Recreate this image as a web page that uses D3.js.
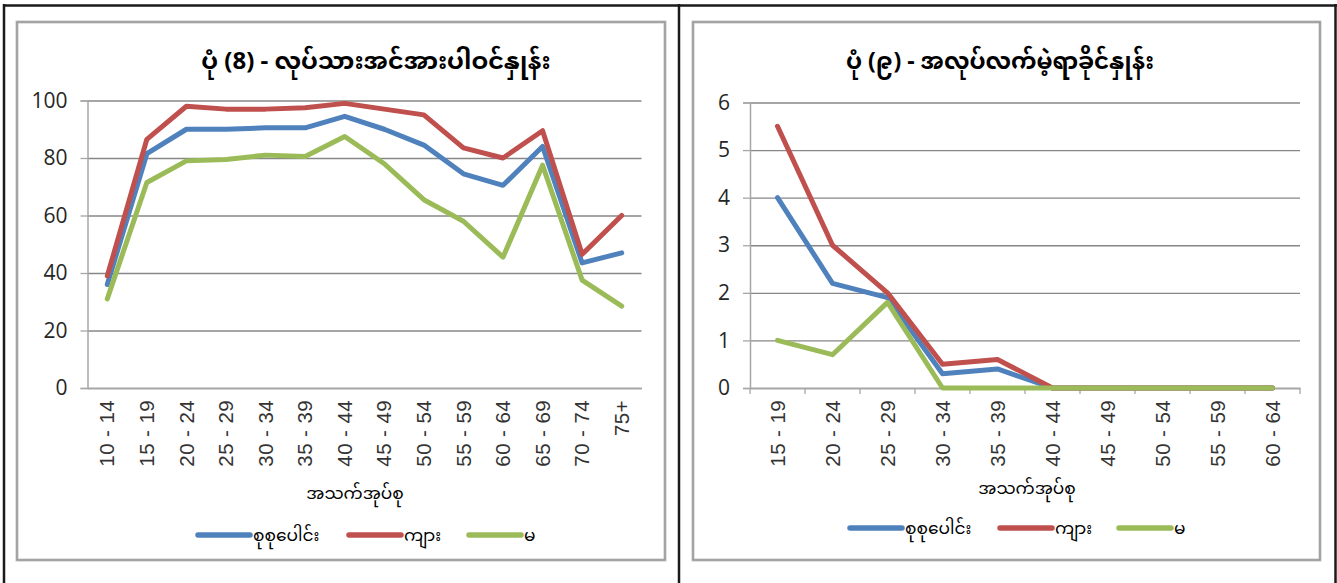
<!DOCTYPE html>
<html>
<head>
<meta charset="utf-8">
<script src="https://cdn.jsdelivr.net/npm/d3@7"></script>
<style>
  body { margin: 0; background: #fff; }
  svg { display: block; }
  .mm { font-family: "Noto Sans Myanmar", "Myanmar Text", "Padauk", "Noto Sans", sans-serif; fill: #000; }
  .tick-y { font-family: "Liberation Sans Narrow", "Open Sans", "Liberation Sans", sans-serif; font-size: 21px; fill: #262626; }
  .tick-x { font-family: "Liberation Sans", Arial, sans-serif; font-size: 20.5px; letter-spacing: 0.4px; fill: #333; }
</style>
</head>
<body>
<script>
// left chart: labour force participation rate
const ageGroupsA = ['10 - 14','15 - 19','20 - 24','25 - 29','30 - 34','35 - 39','40 - 44','45 - 49','50 - 54','55 - 59','60 - 64','65 - 69','70 - 74','75+']
const totalA  = [36, 81.5, 90, 90, 90.5, 90.5, 94.5, 90, 84.5, 74.5, 70.5, 84, 43.5, 47]
const maleA   = [39, 86.5, 98, 97, 97, 97.5, 99, 97, 95, 83.5, 80, 89.5, 46.5, 60]
const femaleA = [31, 71.5, 79, 79.5, 81, 80.5, 87.5, 78, 65.5, 58, 45.5, 77.5, 37.5, 28.5]
const ticksA  = [0, 20, 40, 60, 80, 100]

// right chart: unemployment rate
const ageGroupsB = ['15 - 19','20 - 24','25 - 29','30 - 34','35 - 39','40 - 44','45 - 49','50 - 54','55 - 59','60 - 64']
const totalB  = [4, 2.2, 1.9, 0.3, 0.4, 0, 0, 0, 0, 0]
const maleB   = [5.5, 3, 2, 0.5, 0.6, 0, 0, 0, 0, 0]
const femaleB = [1, 0.7, 1.8, 0, 0, 0, 0, 0, 0, 0]
const ticksB  = [0, 1, 2, 3, 4, 5, 6]

const seriesNames = ['စုစုပေါင်း', 'ကျား', 'မ']
const colors = ['#4F81BD', '#C0504D', '#9BBB59']
const axisTitle = 'အသက်အုပ်စု'

const svg = d3.select('body').append('svg')
    .attr('width', 1337)
    .attr('height', 583)

// outer table lines
const outer = svg.append('g').attr('stroke', '#1a1a1a').attr('stroke-width', 2.5)
outer.append('line').attr('x1', 3).attr('x2', 1337).attr('y1', 5.5).attr('y2', 5.5)
outer.append('line').attr('x1', 4).attr('x2', 4).attr('y1', 4).attr('y2', 583)
outer.append('line').attr('x1', 679).attr('x2', 679).attr('y1', 4).attr('y2', 583)
outer.append('line').attr('x1', 1335.5).attr('x2', 1335.5).attr('y1', 4).attr('y2', 583)

const chart = (cfg) => {
    let g = svg.append('g')

    // chart frame
    g.append('rect')
        .attr('x', cfg.frame[0]).attr('y', cfg.frame[1])
        .attr('width', cfg.frame[2]).attr('height', cfg.frame[3])
        .attr('fill', 'none').attr('stroke', '#c4c4c4').attr('stroke-width', 3)
    g.append('rect')
        .attr('x', cfg.frame[0]).attr('y', cfg.frame[1])
        .attr('width', cfg.frame[2]).attr('height', cfg.frame[3])
        .attr('fill', 'none').attr('stroke', '#8f8f8f').attr('stroke-width', 1.2)

    g.append('text')
        .attr('class', 'mm')
        .attr('x', cfg.titleX)
        .attr('y', 69)
        .attr('text-anchor', 'middle')
        .attr('font-size', cfg.titleSize)
        .attr('font-weight', 'bold')
        .text(cfg.title)

    let x = d3.scaleBand().domain(cfg.cats).range([cfg.x0, cfg.x1])
    let y = d3.scaleLinear().domain([0, d3.max(cfg.ticks)]).range([cfg.y0, cfg.y1])

    // gridlines
    g.append('g')
        .attr('transform', `translate(${cfg.x0},0)`)
        .call(d3.axisLeft(y).tickValues(cfg.ticks).tickSize(-(cfg.x1 - cfg.x0)).tickFormat(''))
        .call(a => a.select('.domain').remove())
        .selectAll('line').attr('stroke', '#878787').attr('stroke-width', 1.3)

    // y tick stubs + labels
    let ya = g.append('g')
        .attr('transform', `translate(${cfg.x0},0)`)
        .call(d3.axisLeft(y).tickValues(cfg.ticks).tickSize(7).tickPadding(13).tickFormat(d3.format('d')))
    ya.select('.domain').attr('stroke', '#a6a6a6').attr('stroke-width', 1.5)
    ya.selectAll('line').attr('stroke', '#a6a6a6').attr('stroke-width', 1.3)
    ya.selectAll('text').attr('class', 'tick-y').attr('font-size', null).attr('font-family', null)

    // x axis
    let xa = g.append('g')
        .attr('transform', `translate(0,${cfg.y0})`)
        .call(d3.axisBottom(x).tickSize(0).tickFormat(''))
    xa.select('.domain').attr('stroke', '#a6a6a6').attr('stroke-width', 1.5)
    if (cfg.xTicks) {
        g.append('g').selectAll('line')
            .data(cfg.cats.concat([null])).enter()
            .append('line')
            .attr('x1', (d, i) => cfg.x0 + i * x.step())
            .attr('x2', (d, i) => cfg.x0 + i * x.step())
            .attr('y1', cfg.y0).attr('y2', cfg.y0 + 6)
            .attr('stroke', '#a6a6a6').attr('stroke-width', 1.3)
    }
    g.append('g').selectAll('text')
        .data(cfg.cats).enter()
        .append('text')
        .attr('class', 'tick-x')
        .attr('transform', d => `translate(${x(d) + x.bandwidth() / 2},${cfg.y0 + 12}) rotate(-90)`)
        .attr('text-anchor', 'end')
        .attr('dy', '0.35em')
        .text(d => d)

    g.append('text')
        .attr('class', 'mm')
        .attr('x', cfg.axisTitleX)
        .attr('y', cfg.titleY)
        .attr('text-anchor', 'middle')
        .attr('font-size', 17)
        .text(axisTitle)

    // lines
    let line = d3.line()
        .x((d, i) => x(cfg.cats[i]) + x.bandwidth() / 2)
        .y(d => y(d))
    g.append('g').selectAll('path')
        .data(cfg.series).enter()
        .append('path')
        .attr('d', d => line(d))
        .attr('fill', 'none')
        .attr('stroke', (d, i) => colors[i])
        .attr('stroke-width', 5)
        .attr('stroke-linejoin', 'round')
        .attr('stroke-linecap', 'round')

    // legend
    let lg = g.append('g').selectAll('g')
        .data(seriesNames).enter()
        .append('g')
        .attr('transform', (d, i) => `translate(${cfg.legendX[i]},${cfg.legendY})`)
    lg.append('line')
        .attr('x1', 0).attr('x2', 52)
        .attr('stroke', (d, i) => colors[i])
        .attr('stroke-width', 5.5)
        .attr('stroke-linecap', 'round')
    lg.append('text')
        .attr('class', 'mm')
        .attr('x', 55)
        .attr('dy', '0.35em')
        .attr('font-size', 17)
        .text(d => d)
}

chart({
    title: 'ပုံ (8) - လုပ်သားအင်အားပါဝင်နှုန်း',
    titleX: 376, titleSize: 24,
    frame: [17, 22, 648, 538],
    cats: ageGroupsA, ticks: ticksA,
    series: [totalA, maleA, femaleA],
    x0: 87.5, x1: 641.5, y0: 388, y1: 100.5,
    xTicks: false,
    axisTitleX: 355, titleY: 499,
    legendX: [198, 349, 469], legendY: 535
})

chart({
    title: 'ပုံ (၉) - အလုပ်လက်မဲ့ရာခိုင်နှုန်း',
    titleX: 1000, titleSize: 23,
    frame: [693, 22, 627, 538],
    cats: ageGroupsB, ticks: ticksB,
    series: [totalB, maleB, femaleB],
    x0: 750, x1: 1300, y0: 388, y1: 102.5,
    xTicks: true,
    axisTitleX: 1027, titleY: 494,
    legendX: [850, 1000, 1119], legendY: 528
})
</script>
</body>
</html>
